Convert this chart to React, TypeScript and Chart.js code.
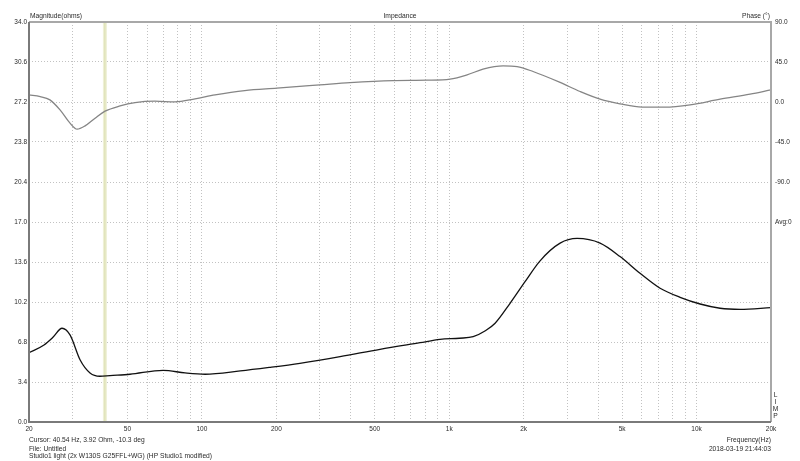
import React, { useEffect, useRef } from "react";
import { Chart, registerables } from "chart.js";

Chart.register(...registerables);

// Magnitude curve (ohms) vs frequency (Hz)
const magFreqs = [20, 23, 25, 27.2, 29.3, 32.2, 35.3, 38.7, 42.5, 51.2, 69.7, 85.5, 103, 143, 189, 249, 362, 525, 762, 918, 1100, 1250, 1400, 1533, 1762, 2026, 2330, 2808, 3288, 4074, 4905, 5910, 7122, 8580, 10340, 12450, 15000, 20000];
const magnitude = [5.89, 6.55, 7.2, 7.97, 7.4, 5.27, 4.17, 3.89, 3.95, 4.06, 4.39, 4.17, 4.06, 4.34, 4.65, 4.99, 5.55, 6.18, 6.74, 7.02, 7.12, 7.25, 7.75, 8.39, 10.09, 11.93, 13.7, 15.2, 15.6, 15.2, 14.06, 12.64, 11.37, 10.6, 10.03, 9.67, 9.58, 9.72];

// Phase curve (degrees) vs frequency (Hz)
const phaseFreqs = [20, 22.2, 24.3, 26.7, 29.3, 31.3, 33.7, 37.0, 40.6, 46.7, 53.7, 64.6, 77.9, 93.8, 113, 149, 201, 300, 397, 593, 814, 1008, 1181, 1370, 1651, 1881, 2183, 2808, 3382, 4074, 4905, 6022, 7462, 9418, 12450, 16460, 20000];
const phase = [8.0, 6.1, 2.4, -8.9, -23.8, -30.6, -26.9, -18.2, -10.3, -4.4, -0.7, 0.9, 0.1, 3.5, 8.0, 12.9, 15.6, 19.3, 21.9, 24.1, 24.5, 25.7, 30.5, 36.9, 40.6, 39.8, 34.3, 22.0, 11.8, 3.2, -2.1, -5.8, -5.8, -3.2, 3.2, 8.8, 13.7];

// Axis ticks
const freqGridTicks = [20, 30, 40, 50, 60, 70, 80, 90, 100, 200, 300, 400, 500, 600, 700, 800, 900, 1000, 2000, 3000, 4000, 5000, 6000, 7000, 8000, 9000, 10000, 20000];
const freqLabelValues = [20, 50, 100, 200, 500, 1000, 2000, 5000, 10000, 20000];
const freqLabelTexts = ["20", "50", "100", "200", "500", "1k", "2k", "5k", "10k", "20k"];
const magTicks = [0, 3.4, 6.8, 10.2, 13.6, 17.0, 20.4, 23.8, 27.2, 30.6, 34.0];
const phaseTicks = [90, 45, 0, -45, -90, -135, -180, -225, -270, -315, -360];
const phaseLabelValues = [90, 45, 0, -45, -90, -135];
const phaseLabelTexts = ["90.0", "45.0", "0.0", "-45.0", "-90.0", "Avg:0"];

const cursorFreq = 40.54;

const FONT = "'Liberation Sans', Arial, sans-serif";

const overlayPlugin = {
  id: "overlay",
  beforeDraw(chart: any) {
    const { ctx, width, height } = chart;
    ctx.save();
    ctx.fillStyle = "#ffffff";
    ctx.fillRect(0, 0, width, height);
    ctx.restore();
  },
  beforeDatasetsDraw(chart: any) {
    const { ctx, chartArea, scales } = chart;
    const x = scales.x.getPixelForValue(cursorFreq);
    ctx.save();
    ctx.strokeStyle = "#eef0d6";
    ctx.lineWidth = 4;
    ctx.beginPath();
    ctx.moveTo(x, chartArea.top);
    ctx.lineTo(x, chartArea.bottom);
    ctx.stroke();
    ctx.strokeStyle = "#d9dcab";
    ctx.lineWidth = 1;
    ctx.beginPath();
    ctx.moveTo(x, chartArea.top);
    ctx.lineTo(x, chartArea.bottom);
    ctx.stroke();
    ctx.restore();
  },
  afterDatasetsDraw(chart: any) {
    const { ctx, chartArea } = chart;
    const { left, right, top, bottom } = chartArea;
    ctx.save();
    ctx.strokeStyle = "#a8a8a8";
    ctx.lineWidth = 2;
    ctx.beginPath();
    ctx.moveTo(left, top);
    ctx.lineTo(right, top);
    ctx.lineTo(right, bottom);
    ctx.stroke();
    ctx.strokeStyle = "#7a7a7a";
    ctx.beginPath();
    ctx.moveTo(left, top);
    ctx.lineTo(left, bottom);
    ctx.lineTo(right, bottom);
    ctx.stroke();

    ctx.fillStyle = "#2a2a2a";
    ctx.font = `6.7px ${FONT}`;
    ctx.textBaseline = "middle";
    ctx.textAlign = "left";
    ctx.fillText("Magnitude(ohms)", left + 1, 16.5);
    ctx.textAlign = "center";
    ctx.fillText("Impedance", (left + right) / 2, 16.5);
    ctx.textAlign = "right";
    ctx.fillText("Phase (°)", right - 1, 16.5);

    ctx.textAlign = "left";
    ctx.fillText("Cursor: 40.54 Hz, 3.92 Ohm, -10.3 deg", left, 440);
    ctx.fillText("File: Untitled", left, 448.7);
    ctx.fillText("Studio1 light (2x W130S G25FFL+WG) (HP Studio1 modified)", left, 455.8);
    ctx.textAlign = "right";
    ctx.fillText("Frequency(Hz)", right, 440);
    ctx.fillText("2018-03-19 21:44:03", right, 449.3);

    ctx.textAlign = "center";
    const letters = ["L", "I", "M", "P"];
    letters.forEach((l, i) => ctx.fillText(l, right + 4.5, 395 + i * 7));
    ctx.restore();
  },
};

export default function App() {
  const ref = useRef<HTMLCanvasElement | null>(null);

  useEffect(() => {
    document.body.style.margin = "0";
    if (!ref.current) return;
    const chart = new Chart(ref.current, {
      type: "line",
      data: {
        datasets: [
          {
            label: "Phase",
            data: phaseFreqs.map((f, i) => ({ x: f, y: phase[i] })),
            yAxisID: "y1",
            borderColor: "#858585",
            borderWidth: 1.3,
            pointRadius: 0,
            fill: false,
            cubicInterpolationMode: "monotone",
          },
          {
            label: "Magnitude",
            data: magFreqs.map((f, i) => ({ x: f, y: magnitude[i] })),
            yAxisID: "y",
            borderColor: "#111111",
            borderWidth: 1.3,
            pointRadius: 0,
            fill: false,
            cubicInterpolationMode: "monotone",
          },
        ],
      },
      options: {
        animation: false,
        responsive: true,
        maintainAspectRatio: false,
        layout: { padding: { top: 22, left: 0, right: 0, bottom: 0 } },
        plugins: {
          legend: { display: false },
          tooltip: { enabled: false },
          title: { display: false },
        },
        scales: {
          x: {
            type: "logarithmic",
            min: 20,
            max: 20000,
            afterBuildTicks: (scale: any) => {
              scale.ticks = freqGridTicks.map((v) => ({ value: v }));
            },
            afterFit: (scale: any) => {
              scale.height = 39;
            },
            ticks: {
              autoSkip: false,
              maxRotation: 0,
              padding: 3,
              color: "#2a2a2a",
              font: { family: FONT, size: 6.5 },
              callback: (value: any) => {
                const idx = freqLabelValues.indexOf(Number(value));
                return idx >= 0 ? freqLabelTexts[idx] : "";
              },
            },
            grid: { color: "#c2c2c2", lineWidth: 1, drawTicks: false },
            border: { display: false, dash: [1, 2] },
          },
          y: {
            type: "linear",
            position: "left",
            min: 0,
            max: 34,
            afterBuildTicks: (scale: any) => {
              scale.ticks = magTicks.map((v) => ({ value: v }));
            },
            afterFit: (scale: any) => {
              scale.width = 29;
            },
            ticks: {
              padding: 2,
              color: "#2a2a2a",
              font: { family: FONT, size: 6.5 },
              callback: (value: any) => Number(value).toFixed(1),
            },
            grid: { color: "#c2c2c2", lineWidth: 1, drawTicks: false },
            border: { display: false, dash: [1, 2] },
          },
          y1: {
            type: "linear",
            position: "right",
            min: -360,
            max: 90,
            afterBuildTicks: (scale: any) => {
              scale.ticks = phaseTicks.map((v) => ({ value: v }));
            },
            afterFit: (scale: any) => {
              scale.width = 29;
            },
            ticks: {
              padding: 4,
              color: "#2a2a2a",
              font: { family: FONT, size: 6.5 },
              callback: (value: any) => {
                const idx = phaseLabelValues.indexOf(Number(value));
                return idx >= 0 ? phaseLabelTexts[idx] : "";
              },
            },
            grid: { display: false, drawTicks: false },
            border: { display: false },
          },
        },
      },
      plugins: [overlayPlugin],
    } as any);
    return () => chart.destroy();
  }, []);

  return (
    <div style={{ width: 800, height: 461, position: "relative" }}>
      <canvas ref={ref} />
    </div>
  );
}
